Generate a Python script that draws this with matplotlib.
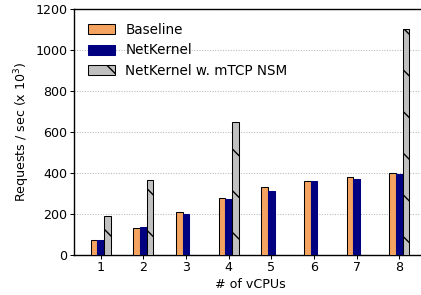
import numpy as np
import matplotlib
matplotlib.use("Agg")
import matplotlib.pyplot as plt

# datos
vcpus = [1, 2, 3, 4, 5, 6, 7, 8]
baseline = [72, 133, 212, 278, 334, 362, 381, 401]
netkernel = [74, 136, 202, 272, 311, 360, 373, 394]
mtcp = [192, 366, 0, 651, 0, 0, 0, 1103]
labels = ["Baseline", "NetKernel", "NetKernel w. mTCP NSM"]

plt.rcParams['hatch.linewidth'] = 0.8
plt.rcParams['font.size'] = 7.3

fig = plt.figure(figsize=(421 / 125, 295 / 125), dpi=125)
ax = fig.add_axes([0.1758, 0.1356, 0.836, 0.834])

x = np.array(vcpus)
w = 0.155
ax.bar(x - w, baseline, w, color='sandybrown', edgecolor='black', lw=0.6, label=labels[0], zorder=3)
ax.bar(x, netkernel, w, color='navy', edgecolor='navy', lw=0.6, label=labels[1], zorder=3)
ax.bar(x + w, mtcp, w, color='silver', edgecolor='black', lw=0.6, hatch='\\', label=labels[2], zorder=3)

ax.set_xlim(0.375, 8.625)
ax.set_ylim(0, 1200)
ax.set_xticks(vcpus)
ax.set_yticks([0, 200, 400, 600, 800, 1000, 1200])
ax.yaxis.grid(True, ls=(0, (1, 1.5)), color='#b8b8b8', lw=0.6, zorder=0)
ax.set_axisbelow(True)
ax.set_xlabel('# of vCPUs', labelpad=2)
ax.set_ylabel('Requests / sec (x 10$^3$)', labelpad=2)
ax.tick_params(length=2.2, width=0.6, pad=1.5)
for s in ax.spines.values():
    s.set_linewidth(0.8)

ax.legend(loc='upper left', frameon=False, fontsize=7.8, handlelength=2.05, handleheight=0.75,
          borderaxespad=0.6, labelspacing=0.5, handletextpad=0.75)

fig.savefig('out.png', dpi=125)
